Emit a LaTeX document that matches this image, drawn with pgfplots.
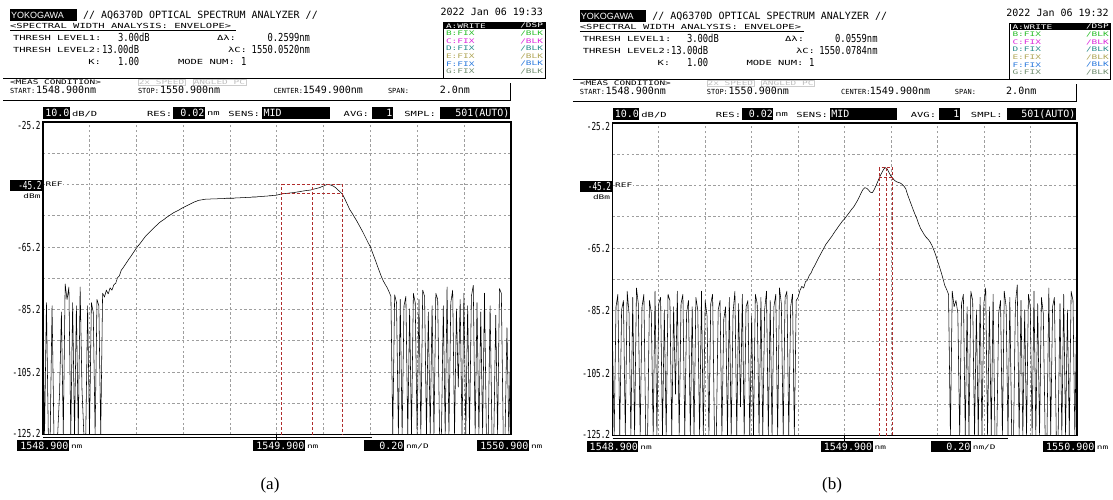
\documentclass[border=0pt]{standalone}
\usepackage{pgfplots}
\usepackage{pgfplotstable}
\pgfplotsset{compat=1.18}
\usepackage{fontspec}
\setmainfont{Liberation Serif}
\newfontfamily\osamono{DejaVu Sans Mono}
\newfontfamily\osanum[FakeStretch=0.8]{DejaVu Sans Mono}
\newfontfamily\osanarrow[FakeStretch=0.7]{DejaVu Sans Mono}
\newfontfamily\osawide[FakeStretch=1.5]{DejaVu Sans Mono}
\newfontfamily\osalogo{Liberation Sans}

\newcommand{\fTitle}{\osamono\fontsize{10}{10}\selectfont}
\newcommand{\fVal}{\osanum\fontsize{11}{11}\selectfont}
\newcommand{\fAxis}{\osanarrow\fontsize{11}{11}\selectfont}
\newcommand{\fLab}{\osawide\fontsize{7}{7}\selectfont}
\newcommand{\fTiny}{\osawide\fontsize{6.3}{6.3}\selectfont}
\newcommand{\fMeas}{\osamono\fontsize{7}{7}\selectfont}
\newcommand{\fBox}{\osamono\fontsize{10}{10}\selectfont}

\definecolor{trB}{RGB}{40,190,40}
\definecolor{trC}{RGB}{220,40,220}
\definecolor{trD}{RGB}{40,140,140}
\definecolor{trE}{RGB}{175,165,85}
\definecolor{trF}{RGB}{40,120,220}
\definecolor{trG}{RGB}{110,140,110}
\definecolor{mkred}{RGB}{175,45,45}

% Trace A, 251 samples from 1548.900 nm in steps of 0.008 nm (dBm)
\pgfplotstableread[header=false,row sep=\\]{
-82\\ -125.2\\ -83\\ -125.2\\ -125.2\\ -84\\ -125.2\\ -125.2\\ -125.2\\ -112\\
-86\\ -125.2\\ -77\\ -82\\ -78\\ -125.2\\ -83\\ -125.2\\ -84\\ -125.2\\
-78\\ -111\\ -125.2\\ -125.2\\ -84\\ -125.2\\ -83\\ -86\\ -125.2\\ -82\\
-84\\ -125.2\\ -80.0\\ -81.2\\ -79.0\\ -80.2\\ -78.3\\ -79.0\\ -77.3\\ -76.8\\
-75.0\\ -74.4\\ -72.6\\ -71.8\\ -70.9\\ -70.0\\ -69.1\\ -68.3\\ -67.4\\ -66.5\\
-65.6\\ -64.8\\ -64.1\\ -63.3\\ -62.5\\ -61.7\\ -61.1\\ -60.5\\ -59.9\\ -59.3\\
-58.7\\ -58.2\\ -57.6\\ -57.1\\ -56.7\\ -56.3\\ -55.8\\ -55.4\\ -55.0\\ -54.6\\
-54.2\\ -53.9\\ -53.6\\ -53.3\\ -52.9\\ -52.6\\ -52.3\\ -52.0\\ -51.7\\ -51.4\\
-51.1\\ -50.8\\ -50.6\\ -50.3\\ -50.2\\ -50.1\\ -50.0\\ -49.9\\ -49.9\\ -49.9\\
-49.8\\ -49.8\\ -49.8\\ -49.8\\ -49.7\\ -49.7\\ -49.7\\ -49.7\\ -49.6\\ -49.6\\
-49.6\\ -49.6\\ -49.6\\ -49.5\\ -49.5\\ -49.5\\ -49.4\\ -49.4\\ -49.4\\ -49.3\\
-49.3\\ -49.3\\ -49.2\\ -49.2\\ -49.2\\ -49.1\\ -49.1\\ -49.0\\ -49.0\\ -48.9\\
-48.9\\ -48.8\\ -48.8\\ -48.7\\ -48.7\\ -48.6\\ -48.45\\ -48.3\\ -48.2\\ -48.1\\
-48.05\\ -48.0\\ -47.9\\ -47.85\\ -47.8\\ -47.7\\ -47.6\\ -47.5\\ -47.4\\ -47.3\\
-47.2\\ -47.1\\ -47.05\\ -47.0\\ -46.8\\ -46.65\\ -46.5\\ -46.35\\ -46.2\\ -45.9\\
-45.7\\ -45.4\\ -45.2\\ -45.25\\ -45.4\\ -45.65\\ -46.0\\ -46.5\\ -47.1\\ -47.6\\
-48.2\\ -49.3\\ -50.6\\ -51.9\\ -53.2\\ -54.1\\ -55.1\\ -56.1\\ -57.1\\ -58.2\\
-59.3\\ -60.4\\ -61.6\\ -62.8\\ -64.0\\ -65.1\\ -66.7\\ -68.3\\ -69.9\\ -71.6\\
-73.2\\ -74.8\\ -76.1\\ -77.2\\ -78.2\\ -79.5\\ -81\\ -125.2\\ -80.5\\ -83\\
-125.2\\ -82\\ -125.2\\ -84\\ -81\\ -125.2\\ -85\\ -125.2\\ -80\\ -83\\
-125.2\\ -82\\ -125.2\\ -79\\ -81\\ -125.2\\ -86\\ -125.2\\ -84\\ -125.2\\
-80\\ -82\\ -125.2\\ -125.2\\ -84\\ -125.2\\ -78\\ -125.2\\ -83\\ -79\\
-125.2\\ -85\\ -110\\ -82\\ -125.2\\ -80\\ -125.2\\ -84\\ -125.2\\ -81\\
-77.5\\ -125.2\\ -83\\ -125.2\\ -86\\ -125.2\\ -80\\ -125.2\\ -125.2\\ -84\\
-125.2\\ -125.2\\ -87\\ -125.2\\ -78.5\\ -80\\ -125.2\\ -125.2\\ -91\\ -125.2\\
-94\\
}\traceA

\pgfplotstableread[header=false,row sep=\\]{
-90.5\\ -125.2\\ -84\\ -80\\ -125.2\\ -85\\ -82\\ -125.2\\ -79\\ -86\\
-125.2\\ -81\\ -125.2\\ -78\\ -83\\ -125.2\\ -84\\ -80\\ -125.2\\ -125.2\\
-82\\ -86\\ -125.2\\ -79\\ -125.2\\ -83\\ -81\\ -125.2\\ -85\\ -125.2\\
-80\\ -82\\ -125.2\\ -84\\ -112\\ -79\\ -125.2\\ -83\\ -80\\ -125.2\\
-86\\ -82\\ -125.2\\ -84\\ -125.2\\ -81\\ -85\\ -125.2\\ -79\\ -125.2\\
-82\\ -87\\ -125.2\\ -83\\ -80\\ -125.2\\ -125.2\\ -85\\ -82\\ -125.2\\
-88\\ -84\\ -125.2\\ -81\\ -125.2\\ -86\\ -79\\ -125.2\\ -83\\ -116\\
-80\\ -125.2\\ -84\\ -82\\ -125.2\\ -87\\ -125.2\\ -80\\ -83\\ -125.2\\
-81\\ -125.2\\ -85\\ -79\\ -125.2\\ -82\\ -125.2\\ -84\\ -80\\ -125.2\\
-78\\ -83\\ -125.2\\ -81\\ -79\\ -125.2\\ -84\\ -80\\ -125.2\\ -82\\
-81\\ -78.8\\ -77.5\\ -78.0\\ -76.0\\ -75.5\\ -74.0\\ -73.2\\ -71.8\\ -70.8\\
-69.6\\ -68.4\\ -67.3\\ -66.2\\ -65.1\\ -64.0\\ -63.2\\ -62.4\\ -61.6\\ -60.7\\
-59.8\\ -59.0\\ -58.1\\ -57.3\\ -56.5\\ -55.9\\ -55.1\\ -54.3\\ -53.5\\ -52.7\\
-52.0\\ -51.0\\ -50.0\\ -48.8\\ -47.5\\ -46.4\\ -45.9\\ -46.1\\ -46.7\\ -47.4\\
-47.5\\ -46.5\\ -45.2\\ -43.8\\ -42.4\\ -41.2\\ -40.1\\ -39.5\\ -39.9\\ -41.1\\
-42.2\\ -42.9\\ -43.6\\ -44.0\\ -44.2\\ -44.4\\ -44.8\\ -45.4\\ -46.3\\ -48.2\\
-49.8\\ -51.4\\ -53.0\\ -54.5\\ -55.9\\ -57.6\\ -59.0\\ -60.0\\ -61.0\\ -61.8\\
-62.4\\ -63.2\\ -64.3\\ -65.7\\ -67.3\\ -69.2\\ -71.0\\ -72.9\\ -75.0\\ -77.2\\
-78.5\\ -80\\ -125.2\\ -79\\ -84\\ -82\\ -86\\ -125.2\\ -83\\ -80\\
-125.2\\ -84\\ -125.2\\ -79\\ -82\\ -125.2\\ -85\\ -125.2\\ -81\\ -125.2\\
-83\\ -78\\ -125.2\\ -84\\ -125.2\\ -80\\ -125.2\\ -125.2\\ -86\\ -82\\
-125.2\\ -79\\ -84\\ -125.2\\ -81\\ -125.2\\ -125.2\\ -83\\ -77\\ -125.2\\
-82\\ -125.2\\ -85\\ -125.2\\ -80\\ -84\\ -125.2\\ -79\\ -125.2\\ -83\\
-125.2\\ -81\\ -86\\ -125.2\\ -125.2\\ -78\\ -125.2\\ -84\\ -81\\ -125.2\\
-125.2\\ -83\\ -125.2\\ -80\\ -125.2\\ -85\\ -125.2\\ -79\\ -82\\ -125.2\\
-84\\
}\traceB

\pgfplotsset{
  osaaxis/.style={
    scale only axis, anchor=south west, height=312.5pt,
    xmin=0, xmax=2, ymin=-125.2, ymax=-25.2,
    xtick={0.2,0.4,0.6,0.8,1.0,1.2,1.4,1.6,1.8},
    ytick={-115.2,-105.2,-95.2,-85.2,-75.2,-65.2,-55.2,-45.2,-35.2},
    xticklabels={}, yticklabels={},
    major tick length=0pt,
    grid=major,
    major grid style={black!38, line width=0.6pt, dash pattern=on 2.4pt off 2.4pt},
    axis line style={line width=1.6pt},
  },
  osatrace/.style={black, line width=0.55pt, line join=round},
  osamk/.style={mkred, line width=0.8pt, dash pattern=on 3pt off 2pt},
}

% Screen furniture of the analyser, in pixel units (y downwards)
% #1 date/time, #2 spectral width, #3 centre wavelength, #4 end of scroll bar
\newcommand{\osascreen}[4]{%
  \fill (10,9) rectangle (77,21);
  \node[anchor=west,text=white,font=\osalogo\fontsize{9}{9}\selectfont] at (11,15.2) {YOKOGAWA};
  \node[anchor=west,font=\fTitle] at (83,15) {// AQ6370D OPTICAL SPECTRUM ANALYZER //};
  \node[anchor=east,font=\fTitle] at (543,12) {#1};
  \node[anchor=west,font=\fLab] at (10,25.5) {<SPECTRAL WIDTH ANALYSIS: ENVELOPE>};
  \draw[line width=0.6pt] (10,30.5) -- (236,30.5);
  \node[anchor=west,font=\fLab] at (13,38) {THRESH LEVEL1:};
  \node[anchor=west,font=\fVal] at (118,37.3) {3.00dB};
  \node[anchor=west,font=\fLab] at (13,50) {THRESH LEVEL2:};
  \node[anchor=west,font=\fVal] at (102,49.3) {13.00dB};
  \node[anchor=east,font=\fLab] at (101,62) {K:};
  \node[anchor=west,font=\fVal] at (118,61.3) {1.00};
  \node[anchor=west,font=\fLab] at (178,62) {MODE NUM:};
  \node[anchor=west,font=\fVal] at (241,61.3) {1};
  \node[anchor=east,font=\fLab] at (236,38) {Δλ:};
  \node[anchor=east,font=\fVal] at (310,37.3) {#2};
  \node[anchor=east,font=\fLab] at (247,50) {λC:};
  \node[anchor=east,font=\fVal] at (310,49.3) {#3};
  % trace list
  \draw[line width=0.8pt] (443,22) rectangle (545,78);
  \fill (444,22) rectangle (545,29.5);
  \node[anchor=west,text=white,font=\fTiny] at (446,25.8) {A:WRITE};
  \node[anchor=east,text=white,font=\fTiny] at (543,25.8) {/DSP};
  \foreach \n/\c/\yy in {B/trB/33.4, C/trC/41.0, D/trD/48.6, E/trE/56.2, F/trF/63.8, G/trG/71.4} {
    \node[anchor=west,text=\c,font=\fTiny] at (446,\yy) {\n:FIX};
    \node[anchor=east,text=\c,font=\fTiny] at (543,\yy) {/BLK};
  }
  % measurement condition
  \draw[line width=0.9pt] (3,78) -- (443,78);
  \node[anchor=west,font=\fTiny] at (10,82.5) {<MEAS CONDITION>};
  \node[draw=black!20,text=black!25,font=\fTiny,inner sep=0.8pt,anchor=west] at (138,82.5) {2x SPEED};
  \node[draw=black!20,text=black!25,font=\fTiny,inner sep=0.8pt,anchor=west] at (193,82.5) {ANGLED PC};
  \node[anchor=west,font=\fMeas] at (10,90.8) {START:};
  \node[anchor=west,font=\fTitle] at (36,89.8) {1548.900nm};
  \node[anchor=west,font=\fMeas] at (138,90.8) {STOP:};
  \node[anchor=west,font=\fTitle] at (160,89.8) {1550.900nm};
  \node[anchor=east,font=\fMeas] at (303,90.8) {CENTER:};
  \node[anchor=east,font=\fTitle] at (363,89.8) {1549.900nm};
  \node[anchor=west,font=\fMeas] at (388,90.8) {SPAN:};
  \node[anchor=east,font=\fTitle] at (470,89.8) {2.0nm};
  \draw[line width=0.9pt] (3,100) -- (510,100) -- (510,83);
  % settings row
  \fill (43,107) rectangle (70,119);
  \node[anchor=east,text=white,font=\fBox] at (69.5,113.2) {10.0};
  \node[anchor=west,font=\fLab] at (72,114) {dB/D};
  \node[anchor=west,font=\fLab] at (147,114) {RES:};
  \fill (173,107) rectangle (205,119);
  \node[anchor=east,text=white,font=\fBox] at (204.5,113.2) {0.02};
  \node[anchor=west,font=\fLab] at (207,114) {nm};
  \node[anchor=east,font=\fLab] at (260,114) {SENS:};
  \fill (262,107) rectangle (330,119);
  \node[anchor=west,text=white,font=\fBox] at (263.5,113.2) {MID};
  \node[anchor=east,font=\fLab] at (369,114) {AVG:};
  \fill (372,107) rectangle (393,119);
  \node[anchor=east,text=white,font=\fBox] at (392.5,113.2) {1};
  \node[anchor=east,font=\fLab] at (436,114) {SMPL:};
  \fill (440,107) rectangle (510,119);
  \node[anchor=east,text=white,font=\fBox] at (509.5,113.2) {501(AUTO)};
  % level scale
  \node[anchor=east,font=\fAxis] at (40.5,125) {-25.2};
  \fill (10,180) rectangle (42,190.5);
  \node[anchor=east,text=white,font=\fAxis] at (41.5,185.3) {-45.2};
  \node[anchor=east,font=\fTiny] at (40.5,196) {dBm};
  \node[anchor=west,font=\fTiny,fill=white,inner sep=0.6pt] at (45,184.5) {REF};
  \node[anchor=east,font=\fAxis] at (40.5,247) {-65.2};
  \node[anchor=east,font=\fAxis] at (40.5,309.5) {-85.2};
  \node[anchor=east,font=\fAxis] at (40.5,372) {-105.2};
  \node[anchor=east,font=\fAxis] at (40.5,433) {-125.2};
  % wavelength scale
  \draw[line width=0.9pt] (43,437.8) -- (#4,437.8);
  \draw[line width=0.9pt] (276.5,434) -- (276.5,440.5);
  \fill (17,440) rectangle (69,451);
  \node[anchor=east,text=white,font=\fBox] at (68.5,445.8) {1548.900};
  \node[anchor=west,font=\fTiny] at (71,446.5) {nm};
  \fill (253,440) rectangle (305,451);
  \node[anchor=east,text=white,font=\fBox] at (304.5,445.8) {1549.900};
  \node[anchor=west,font=\fTiny] at (307,446.5) {nm};
  \fill (364,440) rectangle (404,451);
  \node[anchor=east,text=white,font=\fBox] at (403.5,445.8) {0.20};
  \node[anchor=west,font=\fTiny] at (406,446.5) {nm/D};
  \fill (477,440) rectangle (529,451);
  \node[anchor=east,text=white,font=\fBox] at (528.5,445.8) {1550.900};
  \node[anchor=west,font=\fTiny] at (531,446.5) {nm};
}

\begin{document}
\begin{tikzpicture}[every node/.style={inner sep=0pt, outer sep=0pt}]

% (a) wavelength measured from 1548.900 nm
\begin{axis}[osaaxis, at={(42.7pt,-434.5pt)}, width=468pt]
  \addplot[osatrace] table[x expr=0.008*\coordindex, y index=0] {\traceA};
  \addplot[osamk] coordinates {(1.022,-125.2) (1.022,-45.2) (1.282,-45.2) (1.282,-125.2)};
  \addplot[osamk] coordinates {(1.152,-125.2) (1.152,-45.2)};
  \addplot[osamk] coordinates {(1.022,-48.2) (1.282,-48.2)};
\end{axis}

% (b)
\begin{axis}[osaaxis, at={(612.3pt,-435.5pt)}, width=464.4pt]
  \addplot[osatrace] table[x expr=0.008*\coordindex, y index=0] {\traceB};
  \addplot[osamk] coordinates {(1.1505,-125.2) (1.1505,-39.5) (1.2064,-39.5) (1.2064,-125.2)};
  \addplot[osamk] coordinates {(1.1784,-125.2) (1.1784,-39.5)};
  \addplot[osamk] coordinates {(1.1505,-42.5) (1.2064,-42.5)};
\end{axis}

\begin{scope}[x=1pt, y=-1pt]
  \osascreen{2022 Jan 06 19:33}{0.2599nm}{1550.0520nm}{372}
  \node[font=\fontsize{17}{17}\selectfont] at (270,485) {(a)};
  \node[font=\fontsize{17}{17}\selectfont] at (832,485) {(b)};
\end{scope}

\begin{scope}[x=0.9923pt, y=-1pt, xshift=569.93pt, yshift=-1pt]
  \osascreen{2022 Jan 06 19:32}{0.0559nm}{1550.0784nm}{441.5}
\end{scope}

\pgfresetboundingbox
\path (0pt,0pt) rectangle (1113pt,-500pt);
\end{tikzpicture}
\end{document}
